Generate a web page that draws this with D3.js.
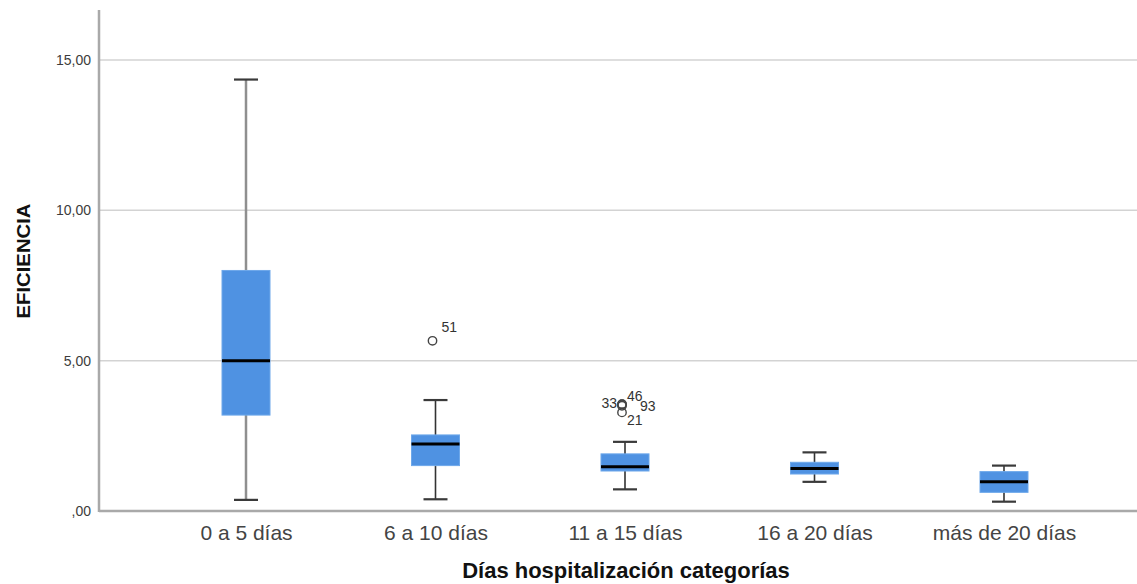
<!DOCTYPE html>
<html><head><meta charset="utf-8">
<script src="https://cdn.jsdelivr.net/npm/d3@7"></script>
<style>body{margin:0;background:#fff}svg{display:block}text{font-family:"Liberation Sans",Arial,sans-serif}</style>
</head><body>
<svg id="c" width="1137" height="584"></svg>
<script>
const categories = ["0 a 5 días","6 a 10 días","11 a 15 días","16 a 20 días","más de 20 días"];
const whiskerLow  = [0.37, 0.39, 0.72, 0.97, 0.31];
const q1          = [3.19, 1.51, 1.33, 1.23, 0.62];
const median      = [5.00, 2.23, 1.47, 1.41, 0.97];
const q3          = [8.00, 2.53, 1.90, 1.62, 1.31];
const whiskerHigh = [14.35, 3.69, 2.30, 1.95, 1.51];
const outlierGroup = [1, 2, 2, 2, 2];
const outlierValue = [5.66, 3.55, 3.55, 3.50, 3.28];
const outlierId    = ["51", "33", "46", "93", "21"];
const yTicks = [0, 5, 10, 15];
const yTickLabels = [",00", "5,00", "10,00", "15,00"];

// label placement layout (offsets from circle centre)
const labelLayout = {"51":[9,-9,"start"],"33":[-5,4,"end"],"46":[5,-3,"start"],"93":[18,5,"start"],"21":[5,13,"start"]};

const svg = d3.select("#c");
const mLeft = 99, mRight = 1137, mTop = 10, mBottom = 511;
const y = d3.scaleLinear().domain([0, 15]).range([mBottom, 60]);
const x = d3.scalePoint().domain(categories).range([246, 1004]);

// gridlines
svg.append("g").selectAll("line").data(yTicks.filter(d => d > 0)).join("line")
  .attr("x1", mLeft).attr("x2", mRight).attr("y1", d => y(d)).attr("y2", d => y(d))
  .attr("stroke", "#d3d3d3").attr("stroke-width", 1.5);

// y axis using d3 axis for labels
const yAxis = d3.axisLeft(y).tickValues(yTicks).tickSize(0).tickPadding(8)
  .tickFormat((d, i) => yTickLabels[i]);
const gy = svg.append("g").attr("transform", `translate(${mLeft},0)`).call(yAxis);
gy.select(".domain").remove();
gy.selectAll("text").attr("font-size", 14).attr("fill", "#3c3c3c")
  .attr("font-family", '"Liberation Sans",Arial,sans-serif');

// x axis labels
const xAxis = d3.axisBottom(x).tickSize(0).tickPadding(14);
const gx = svg.append("g").attr("transform", `translate(0,${mBottom})`).call(xAxis);
gx.select(".domain").remove();
gx.selectAll("text").attr("font-size", 21).attr("fill", "#444")
  .attr("font-family", '"Liberation Sans",Arial,sans-serif');

// axis lines
svg.append("line").attr("x1", mLeft).attr("x2", mLeft).attr("y1", mTop).attr("y2", mBottom + 1)
  .attr("stroke", "#a9a9a9").attr("stroke-width", 2.5);
svg.append("line").attr("x1", mLeft).attr("x2", mRight).attr("y1", mBottom).attr("y2", mBottom)
  .attr("stroke", "#a9a9a9").attr("stroke-width", 2.5);

// boxes
const boxW = 48, capW = 24;
const g = svg.append("g").selectAll("g").data(categories).join("g");
g.append("line").attr("class", "stem")
  .attr("x1", d => x(d)).attr("x2", d => x(d))
  .attr("y1", (d, i) => y(whiskerLow[i])).attr("y2", (d, i) => y(whiskerHigh[i]))
  .attr("stroke", (d, i) => i === 0 ? "#8f8f8f" : "#333")
  .attr("stroke-width", (d, i) => i === 0 ? 2.5 : 1.6);
[whiskerLow, whiskerHigh].forEach(arr => {
  g.append("line")
    .attr("x1", d => x(d) - capW / 2).attr("x2", d => x(d) + capW / 2)
    .attr("y1", (d, i) => y(arr[i])).attr("y2", (d, i) => y(arr[i]))
    .attr("stroke", "#3a3a3a").attr("stroke-width", 2.2);
});
g.append("rect")
  .attr("x", d => x(d) - boxW / 2).attr("width", boxW)
  .attr("y", (d, i) => y(q3[i])).attr("height", (d, i) => y(q1[i]) - y(q3[i]))
  .attr("fill", "#4f92e2").attr("stroke", "#6ea8ea").attr("stroke-width", 1);
g.append("line")
  .attr("x1", d => x(d) - boxW / 2).attr("x2", d => x(d) + boxW / 2)
  .attr("y1", (d, i) => y(median[i])).attr("y2", (d, i) => y(median[i]))
  .attr("stroke", "#000").attr("stroke-width", 3);

// outliers
const outliers = outlierValue.map((v, i) => ({g: categories[outlierGroup[i]], v, id: outlierId[i]}));
const og = svg.append("g");
og.selectAll("circle").data(outliers).join("circle")
  .attr("cx", d => x(d.g) - 3).attr("cy", d => y(d.v)).attr("r", 4.2)
  .attr("fill", "none").attr("stroke", "#444").attr("stroke-width", 1.4);
og.selectAll("text").data(outliers).join("text")
  .attr("x", d => x(d.g) - 3 + labelLayout[d.id][0])
  .attr("y", d => y(d.v) + labelLayout[d.id][1])
  .attr("text-anchor", d => labelLayout[d.id][2])
  .attr("font-size", 14).attr("fill", "#333").text(d => d.id);

// titles
svg.append("text").attr("x", 626).attr("y", 578).attr("text-anchor", "middle")
  .attr("font-size", 22).attr("font-weight", "bold").attr("fill", "#111")
  .text("Días hospitalización categorías");
svg.append("text").attr("transform", "translate(30,261) rotate(-90)").attr("text-anchor", "middle")
  .attr("font-size", 19).attr("font-weight", "bold").attr("fill", "#111")
  .attr("textLength", 115).attr("lengthAdjust", "spacingAndGlyphs")
  .text("EFICIENCIA");
</script>
</body></html>
